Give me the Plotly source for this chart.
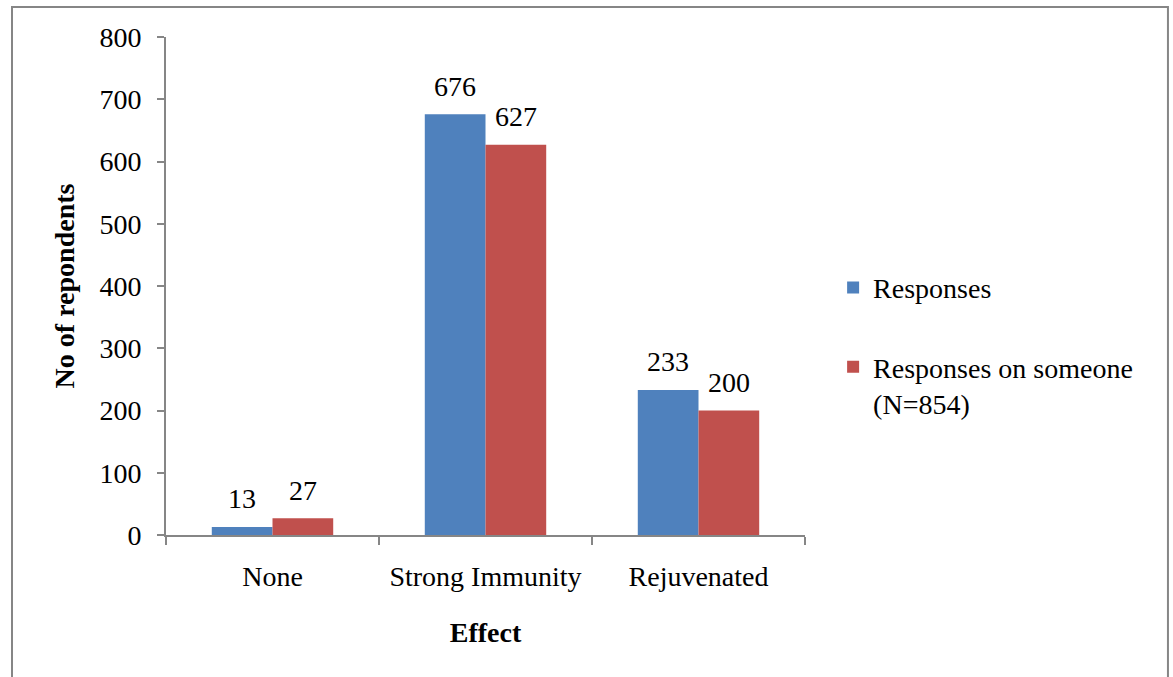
import plotly.graph_objects as go

categories = ["None", "Strong Immunity", "Rejuvenated"]
responses = [13, 676, 233]
responses_someone = [27, 627, 200]
series_names = ["Responses", "Responses on someone<br>(N=854)"]
y_ticks = [0, 100, 200, 300, 400, 500, 600, 700, 800]

BLUE = "#4F81BD"
RED = "#C0504D"
GREY = "#868686"
FONT = "Liberation Serif"
SIZE = 28

fig = go.Figure()
fig.add_trace(go.Bar(x=categories, y=responses, name=series_names[0],
                     marker=dict(color=BLUE, line=dict(width=0)),
                     legendgroup="a"))
fig.add_trace(go.Bar(x=categories, y=responses_someone, name=series_names[1],
                     marker=dict(color=RED, line=dict(width=0)),
                     legendgroup="b"))

# value labels above each bar
bar_offset = 30.3
annotations = []
for vals, shift in ((responses, -bar_offset), (responses_someone, bar_offset)):
    for c, v in zip(categories, vals):
        annotations.append(dict(x=c, y=v, xref="x", yref="y", text=str(v),
                                showarrow=False, xshift=shift, yshift=28,
                                yanchor="middle",
                                font=dict(family=FONT, size=SIZE, color="black")))

fig.update_layout(
    width=1173, height=677,
    margin=dict(l=166, r=368, t=37, b=142),
    paper_bgcolor="white", plot_bgcolor="white",
    font=dict(family=FONT, size=SIZE, color="black"),
    barmode="group", bargap=0.43, bargroupgap=0,
    showlegend=True,
    legend=dict(x=1.044, y=0.38, xanchor="left", yanchor="middle",
                font=dict(family=FONT, size=SIZE, color="black"), tracegroupgap=40,
                valign="top", bgcolor="rgba(0,0,0,0)"),
    annotations=annotations,
    shapes=[dict(type="rect", xref="paper", yref="paper",
                 x0=-0.241, x1=1.568, y0=-0.3, y1=1.06,
                 line=dict(color=GREY, width=2), fillcolor="rgba(0,0,0,0)",
                 layer="below")],
)

fig.update_xaxes(
    showline=True, linecolor=GREY, linewidth=2,
    ticks="outside", tickson="boundaries", ticklen=8, tickcolor=GREY, tickwidth=2,
    showgrid=False, tickfont=dict(family=FONT, size=SIZE, color="black"),
    ticklabelstandoff=15,
    title=dict(text="<b>Effect</b>", font=dict(family=FONT, size=SIZE, color="black"), standoff=32),
)
fig.update_yaxes(
    range=[0, 800], tickvals=y_ticks, ticktext=[str(t) for t in y_ticks],
    showline=True, linecolor=GREY, linewidth=2,
    ticks="outside", ticklen=7, tickcolor=GREY, tickwidth=2,
    showgrid=False, zeroline=False, tickfont=dict(family=FONT, size=SIZE, color="black"),
    ticklabelstandoff=10,
    title=dict(text="<b>No of repondents</b>", font=dict(family=FONT, size=SIZE, color="black"), standoff=17),
)

fig.write_html("out.html")
